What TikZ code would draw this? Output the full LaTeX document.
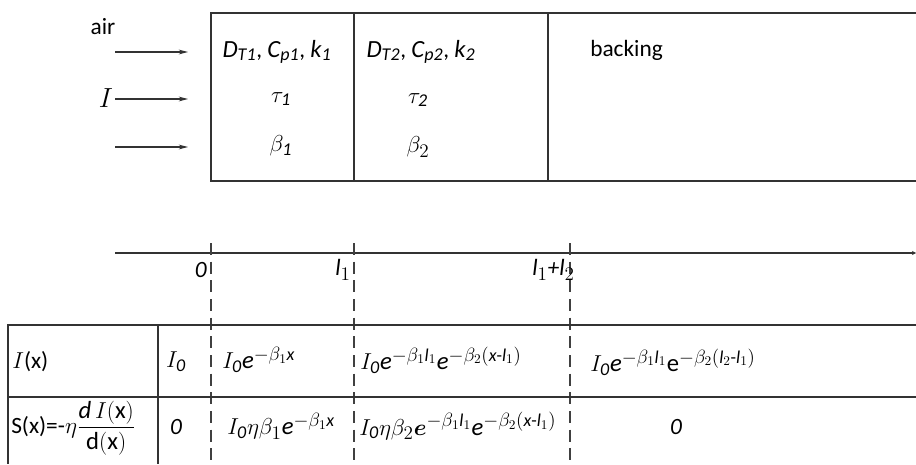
\documentclass[tikz,border=0pt]{standalone}
\usepackage{amsmath}
\usepackage{fontspec}
\setmainfont{Carlito}
\DeclareMathSizes{17.5}{18.5}{13.5}{10}
\usetikzlibrary{arrows.meta}
\begin{document}
\begin{tikzpicture}[x=0.75pt,y=-0.75pt,
  ln/.style={line width=0.9pt,draw=black!80},
  dsh/.style={line width=0.9pt,draw=black!75,dash pattern=on 9pt off 5pt},
  arr/.style={line width=0.9pt,draw=black!80,-{Stealth[length=7pt,width=3.6pt]}},
  txt/.style={inner sep=0pt,font=\fontsize{17.5}{20}\selectfont},
  ltxt/.style={txt,anchor=west}]
\useasboundingbox (0,0) rectangle (916,464);
% layer box
\coordinate (b0t) at (211,13); \coordinate (b0b) at (211,181);
\coordinate (b1t) at (354,13); \coordinate (b1b) at (354,181);
\coordinate (b2t) at (548,13); \coordinate (b2b) at (548,181);
\coordinate (bet) at (916,13); \coordinate (beb) at (916,181);
\draw[ln] (bet) -- (b0t) -- (b0b) -- (beb);
\draw[ln] (b1t) -- (b1b);
\draw[ln] (b2t) -- (b2b);
% box texts
\node[txt] (p1) at (277,52) {$\mathit{D}_{\mathit{T1}}$, $\mathit{C}_{\mathit{p1}}$, $\mathit{k}_{\mathit{1}}$};
\node[txt] (t1) at (281,99) {$\tau_{\mathit{1}}$};
\node[txt] (be1) at (281,146) {$\beta_{\mathit{1}}$};
\node[txt] (p2) at (421,52) {$\mathit{D}_{\mathit{T2}}$, $\mathit{C}_{\mathit{p2}}$, $\mathit{k}_{\mathit{2}}$};
\node[txt] (t2) at (418,100) {$\tau_{\mathit{2}}$};
\node[txt] (be2) at (418,147) {$\beta_{2}$};
\node[ltxt] (bk) at (590,50) {backing};
% incoming arrows
\node[txt] (air) at (103,27) {air};
\node[txt,font=\fontsize{20}{22}\selectfont] (Ilab) at (106,98) {$I$};
\coordinate (a1s) at (115,52); \coordinate (a1e) at (188,52);
\coordinate (a2s) at (115,99); \coordinate (a2e) at (188,99);
\coordinate (a3s) at (115,147); \coordinate (a3e) at (188,147);
\draw[arr] (a1s) -- (a1e);
\draw[arr] (a2s) -- (a2e);
\draw[arr] (a3s) -- (a3e);
% axis
\coordinate (ax0) at (115,253); \coordinate (ax1) at (916,253);
\draw[ln,-{Stealth[length=3pt,width=3pt]}] (ax0) -- (ax1);
\coordinate (d0t) at (211,243); \coordinate (d0b) at (211,464);
\coordinate (d1t) at (354,243); \coordinate (d1b) at (354,464);
\coordinate (d2t) at (570,243); \coordinate (d2b) at (570,464);
\draw[dsh] (d0t) -- (d0b);
\draw[dsh] (d1t) -- (d1b);
\draw[dsh] (d2t) -- (d2b);
\node[txt,anchor=east] (x0) at (207,270) {\itshape 0};
\node[txt,anchor=east] (x1) at (351,270) {\itshape l$_{1}$};
\node[txt,anchor=east] (x2) at (575,270) {\itshape l$_{1}$+l$_{2}$};
% table
\coordinate (tl1) at (8,325); \coordinate (tr1) at (916,325);
\coordinate (tl2) at (8,397); \coordinate (tr2) at (916,397);
\coordinate (tlb) at (8,464);
\coordinate (tv1) at (158,325); \coordinate (tv1b) at (158,464);
\draw[ln] (tr1) -- (tl1) -- (tlb);
\draw[ln] (tl2) -- (tr2);
\draw[ln] (tv1) -- (tv1b);
% row 1
\node[ltxt] (r1a) at (12,362) {$I$(x)};
\node[txt] (r1b) at (176,362) {$I_{\mathit{0}}$};
\node[ltxt] (r1c) at (222,360) {$I_{\mathit{0}}\mathit{e}^{-\beta_1 \mathit{x}}$};
\node[ltxt] (r1d) at (360,360) {$I_{\mathit{0}}\mathit{e}^{-\beta_1 \mathit{l}_1}\mathit{e}^{-\beta_2(\mathit{x}\text{-}\mathit{l}_1)}$};
\node[ltxt] (r1e) at (590,362) {$I_{\mathit{0}}\mathit{e}^{-\beta_1 \mathit{l}_1}\mathrm{e}^{-\beta_2(\mathit{l}_2\text{-}\mathit{l}_1)}$};
% row 2
\node[ltxt] (r2a) at (11,428) {S(x)=-$\eta\dfrac{\mathit{d\,}I\mathrm{(x)}}{\mathrm{d(x)}}$};
\node[txt] (r2b) at (176,427) {\itshape 0};
\node[ltxt] (r2c) at (227,426) {$I_{\mathit{0}}\eta\beta_1\mathit{e}^{-\beta_1 \mathit{x}}$};
\node[ltxt] (r2d) at (359,426) {$I_{\mathit{0}}\eta\beta_2\boldsymbol{e}^{-\beta_1 \mathit{l}_1}\mathit{e}^{-\beta_2(\mathit{x}\text{-}\mathit{l}_1)}$};
\node[txt] (r2e) at (676,427) {\itshape 0};
\end{tikzpicture}
\end{document}
